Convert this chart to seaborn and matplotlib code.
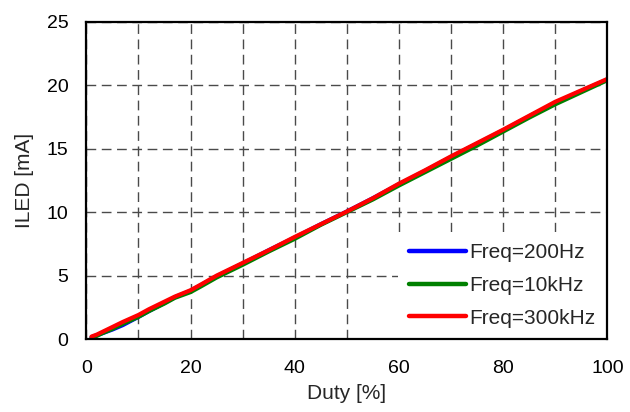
import numpy as np
import pandas as pd
import matplotlib
matplotlib.use("Agg")
import matplotlib.pyplot as plt
import seaborn as sns

duty = [1, 2, 3, 5, 7, 10, 12, 15, 17, 20, 22, 25, 30, 35, 40, 45, 50, 55, 60, 65, 70, 75, 80, 85, 90, 95, 100]
i_200hz = [0.15, 0.3, 0.45, 0.75, 1.1, 1.75, 2.2, 2.85, 3.3, 3.8, 4.25, 4.95, 5.95, 7.0, 8.0, 9.05, 10.05, 11.1, 12.2, 13.25, 14.35, 15.4, 16.45, 17.55, 18.6, 19.55, 20.45]
i_10khz = [0.1, 0.25, 0.45, 0.8, 1.2, 1.75, 2.2, 2.8, 3.25, 3.7, 4.15, 4.85, 5.85, 6.9, 7.9, 9.0, 10.0, 11.0, 12.1, 13.15, 14.2, 15.25, 16.35, 17.45, 18.5, 19.45, 20.4]
i_300khz = [0.2, 0.35, 0.55, 0.95, 1.35, 1.9, 2.35, 2.95, 3.35, 3.85, 4.3, 5.0, 6.0, 7.0, 8.05, 9.05, 10.05, 11.1, 12.25, 13.3, 14.4, 15.45, 16.5, 17.6, 18.7, 19.6, 20.5]
labels = ["Freq=200Hz", "Freq=10kHz", "Freq=300kHz"]
colors = ["#0000ff", "#008000", "#ff0000"]

df = pd.DataFrame({
    "Duty": duty * 3,
    "ILED": i_200hz + i_10khz + i_300khz,
    "series": [labels[0]] * len(duty) + [labels[1]] * len(duty) + [labels[2]] * len(duty),
})

sns.set_style("white")
plt.rcParams['font.family'] = ['Liberation Sans', 'DejaVu Sans']

fig = plt.figure(figsize=(6.3, 4.12), dpi=100)
ax = fig.add_axes([0.137, 0.177, 0.827, 0.77])

sns.lineplot(data=df, x="Duty", y="ILED", hue="series", palette=colors,
             hue_order=labels, linewidth=3.0, ax=ax, sort=False)

ax.set_xlim(0, 100)
ax.set_ylim(0, 25)
ax.set_xticks([0, 20, 40, 60, 80, 100])
ax.set_xticks(np.arange(10, 100, 20), minor=True)
ax.set_yticks([0, 5, 10, 15, 20, 25])
ax.grid(True, which="both", color="#4a4a4a", linestyle=(0, (7, 4)), linewidth=1.0)
ax.tick_params(axis="both", which="major", direction="in", length=5, width=1,
               labelsize=14, colors="black")
ax.tick_params(axis="both", which="minor", direction="in", length=3, width=1)
ax.tick_params(axis="x", which="major", pad=15)
ax.tick_params(axis="y", which="major", pad=13)
for s in ax.spines.values():
    s.set_color("black")
    s.set_linewidth(1.6)
    s.set_visible(True)
    s.set_zorder(3)

ax.set_xlabel("Duty [%]", fontsize=15, labelpad=5)
ax.set_ylabel("ILED [mA]", fontsize=15, labelpad=9)

leg = ax.legend(loc="lower right", frameon=True, fontsize=15, handlelength=2.7,
                borderpad=0.55, labelspacing=0.66, handletextpad=0.2,
                fancybox=False, borderaxespad=0.0)
leg.get_frame().set_edgecolor("white")
leg.get_frame().set_facecolor("white")
leg.get_frame().set_alpha(1.0)
leg.get_frame().set_linewidth(0)
leg.set_zorder(2.8)
for lh in leg.get_lines():
    lh.set_linewidth(3.2)

fig.savefig("out.png", dpi=100)
